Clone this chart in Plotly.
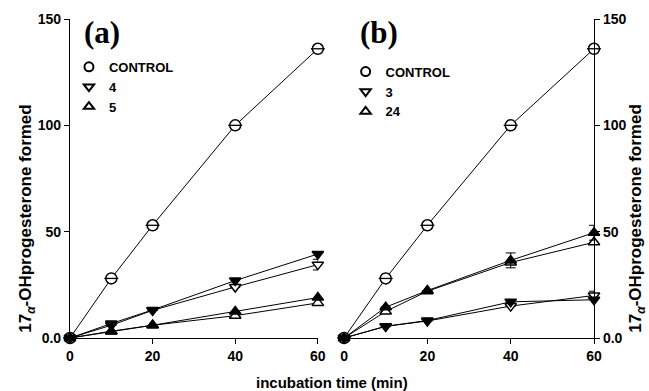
import plotly.graph_objects as go

time_min = [0, 10, 20, 40, 60]
y_ticks = [0, 50, 100, 150]
y_tick_labels = ["0.0", "50", "100", "150"]
x_ticks = [0, 20, 40, 60]

# Panel (a)
a_control = [0, 28, 53, 100, 136]
a_4_filled = [0, 6.8, 13.2, 27, 39.5]
a_4_open = [0, 6, 13, 24, 34.5]
a_4_open_err = [0, 0, 0, 0, 2.5]
a_5_filled = [0, 3.2, 6, 12.5, 19]
a_5_open = [0, 3, 6, 10.5, 16.5]

# Panel (b)
b_control = [0, 28, 53, 100, 136]
b_24_filled = [0, 14.5, 22.3, 36.5, 49.5]
b_24_filled_err = [0, 0, 0, 3.5, 3.5]
b_24_open = [0, 12.5, 22, 35.5, 45]
b_3_filled = [0, 5.5, 8.2, 17, 18]
b_3_open = [0, 5.5, 8, 15, 20]
b_3_open_err = [0, 0, 0, 0, 2]

fig = go.Figure()

def add_series(x, y, xa, ya, symbol, filled, err=None):
    kw = {}
    if err is not None:
        kw["error_y"] = dict(type="data", array=err, visible=True, color="black", thickness=1, width=5)
    fig.add_trace(go.Scatter(
        x=x, y=y, xaxis=xa, yaxis=ya, mode="lines+markers", showlegend=False,
        line=dict(color="black", width=1),
        marker=dict(symbol=symbol, size=10,
                    color="black" if filled else "white",
                    line=dict(color="black", width=1.5)),
        cliponaxis=False, **kw))

def add_control(x, y, xa, ya):
    fig.add_trace(go.Scatter(
        x=x, y=y, xaxis=xa, yaxis=ya, mode="lines+markers", showlegend=False,
        line=dict(color="black", width=1),
        marker=dict(symbol="circle", size=11, color="white", line=dict(color="black", width=1.5)),
        cliponaxis=False))
    fig.add_trace(go.Scatter(
        x=x, y=y, xaxis=xa, yaxis=ya, mode="markers", showlegend=False,
        marker=dict(symbol="line-ew-open", size=10, color="black",
                    line=dict(color="black", width=1.3)),
        cliponaxis=False, hoverinfo="skip"))

# panel a
add_control(time_min, a_control, "x", "y")
add_series(time_min, a_4_open, "x", "y", "triangle-down", False, a_4_open_err)
add_series(time_min, a_4_filled, "x", "y", "triangle-down", True)
add_series(time_min, a_5_open, "x", "y", "triangle-up", False)
add_series(time_min, a_5_filled, "x", "y", "triangle-up", True)

# panel b
add_control(time_min, b_control, "x2", "y2")
add_series(time_min, b_24_open, "x2", "y2", "triangle-up", False)
add_series(time_min, b_24_filled, "x2", "y2", "triangle-up", True, b_24_filled_err)
add_series(time_min, b_3_open, "x2", "y2", "triangle-down", False, b_3_open_err)
add_series(time_min, b_3_filled, "x2", "y2", "triangle-down", True)

# legend-only traces
def legend_item(name, symbol, leg):
    fig.add_trace(go.Scatter(
        x=[None], y=[None], mode="markers", name=name, legend=leg,
        marker=dict(symbol=symbol, size=9, color="white", line=dict(color="black", width=2))))

legend_item("CONTROL", "circle", "legend")
legend_item("4", "triangle-down", "legend")
legend_item("5", "triangle-up", "legend")
legend_item("CONTROL", "circle", "legend2")
legend_item("3", "triangle-down", "legend2")
legend_item("24", "triangle-up", "legend2")

tickfont = dict(family="Liberation Sans", size=14, color="black", weight="bold")
title_font = dict(family="Liberation Sans", size=17, color="black", weight="bold")
ytitle = "17<sub><i>α</i></sub>-OHprogesterone formed"

xcommon = dict(range=[0, 60], tickvals=x_ticks, ticks="outside", ticklen=5, tickwidth=1,
               tickcolor="black", showline=True, linecolor="black", linewidth=1.2,
               showgrid=False, zeroline=False, tickfont=tickfont, fixedrange=True)
ycommon = dict(range=[0, 150], tickvals=y_ticks, ticktext=y_tick_labels, ticks="outside",
               ticklen=5, tickwidth=1, tickcolor="black", showline=True, linecolor="black",
               linewidth=1.2, showgrid=False, zeroline=False, tickfont=tickfont)

legend_common = dict(font=dict(family="Liberation Sans", size=13, color="black", weight="bold"),
                     bgcolor="rgba(0,0,0,0)", borderwidth=0, tracegroupgap=0,
                     xanchor="left", yanchor="top", itemwidth=30)

fig.update_layout(
    width=649, height=391,
    margin=dict(l=70, r=55, t=19, b=53),
    paper_bgcolor="white", plot_bgcolor="white",
    xaxis=dict(domain=[0, 0.473], anchor="y", **xcommon),
    xaxis2=dict(domain=[0.523, 1], anchor="y2", **xcommon),
    yaxis=dict(anchor="x", side="left", **ycommon),
    yaxis2=dict(anchor="x2", side="right", **ycommon),
    legend=dict(x=-0.002, y=0.897, **legend_common),
    legend2=dict(x=0.526, y=0.882, **legend_common),
    annotations=[
        dict(text="(a)", x=0.023, y=1.02, xref="paper", yref="paper", xanchor="left", yanchor="top",
             showarrow=False, font=dict(family="Liberation Serif", size=31, color="black", weight="bold")),
        dict(text="(b)", x=0.549, y=1.02, xref="paper", yref="paper", xanchor="left", yanchor="top",
             showarrow=False, font=dict(family="Liberation Serif", size=31, color="black", weight="bold")),
        dict(text="incubation time (min)", x=0.5, y=-0.14, xref="paper", yref="paper",
             xanchor="center", yanchor="middle", showarrow=False,
             font=dict(family="Liberation Sans", size=15, color="black", weight="bold")),
        dict(text=ytitle, x=-0.082, y=0.374, xref="paper", yref="paper", textangle=-90,
             xanchor="center", yanchor="middle", showarrow=False, font=title_font),
        dict(text=ytitle, x=1.082, y=0.374, xref="paper", yref="paper", textangle=-90,
             xanchor="center", yanchor="middle", showarrow=False, font=title_font),
    ],
)

fig.write_html("out.html", config={"displayModeBar": False},
               post_script="document.body.style.margin='0';document.body.style.padding='0';")
